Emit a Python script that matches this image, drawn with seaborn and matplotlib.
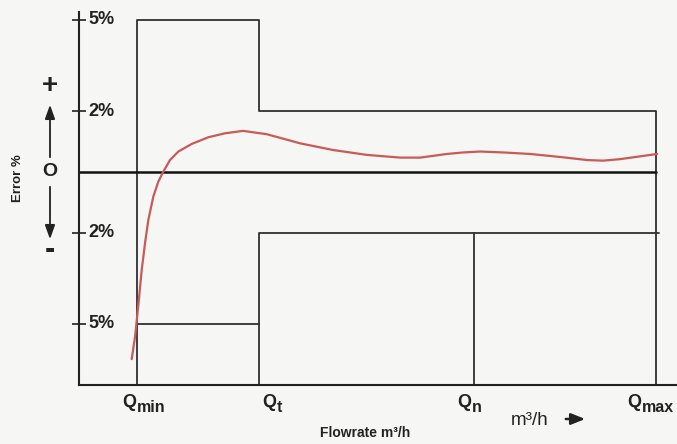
import matplotlib
matplotlib.use("Agg")
import matplotlib.pyplot as plt
import numpy as np
import pandas as pd
import seaborn as sns

# ---- data -------------------------------------------------------------
flow_names = ["Q", "Q", "Q", "Q"]
flow_subs = ["min", "t", "n", "max"]
flow_pos = [1.01, 3.12, 6.85, 9.99]          # Qmin, Qt, Qn, Qmax (schematic flow)
upper_limits = [5, 2]                         # +% : Qmin..Qt , Qt..Qmax
lower_limits = [-5, -2]                       # -% : Qmin..Qt , Qt..Qmax
ytick_vals = [5, 2, -2, -5]
ytick_labels = ["5%", "2%", "2%", "5%"]

curve_x = [0.913, 0.971, 1.028, 1.087, 1.144, 1.201, 1.288, 1.374, 1.461, 1.577, 1.721,
           1.953, 2.241, 2.530, 2.842, 3.253, 3.830, 4.402, 4.986, 5.563, 5.910,
           6.373, 6.655, 6.950, 7.348, 7.816, 8.388, 8.804, 9.081, 9.376, 9.601, 10.017]
curve_y = [-6.16, -5.42, -4.38, -3.22, -2.34, -1.58, -0.81, -0.32, 0.01, 0.39, 0.67,
           0.92, 1.14, 1.27, 1.35, 1.24, 0.94, 0.72, 0.56, 0.47, 0.47,
           0.59, 0.64, 0.67, 0.64, 0.59, 0.48, 0.39, 0.37, 0.42, 0.48, 0.59]

# ---- figure -----------------------------------------------------------
sns.set_theme(style="white")
plt.rcParams["font.family"] = ["Liberation Sans", "DejaVu Sans"]

bg = "#f6f6f4"
ink = "#222222"
fig = plt.figure(figsize=(6.77, 4.44), dpi=100, facecolor=bg)
ax = fig.add_axes([79 / 677, 59 / 444, 598 / 677, 373 / 444])
ax.set_facecolor(bg)

y_bottom, y_top = -7.01, 5.26
ax.set_xlim(0, 10.36)
ax.set_ylim(y_bottom, y_top)

qmin, qt, qn, qmax = flow_pos
lc = "#303030"
lw = 1.3

# upper tolerance envelope
up = pd.DataFrame({"x": [qmin, qmin, qt, qt, qmax, qmax],
                   "y": [y_bottom, upper_limits[0], upper_limits[0], upper_limits[1], upper_limits[1], y_bottom]})
ax.plot(up["x"], up["y"], color=lc, lw=lw)
# lower tolerance envelope
ax.plot([qmin, qt], [lower_limits[0]] * 2, color=lc, lw=lw)
ax.plot([qt, qt, qmax + 0.05], [y_bottom, lower_limits[1], lower_limits[1]], color=lc, lw=lw)
ax.plot([qn, qn], [lower_limits[1], y_bottom], color=lc, lw=lw)
# zero line
ax.plot([0, qmax], [0, 0], color="#111111", lw=1.8)

# error curve
df = pd.DataFrame({"flow": curve_x, "error": curve_y})
sns.lineplot(data=df, x="flow", y="error", ax=ax, color="#c85a5a", lw=1.6, sort=False)

# axes styling
for s in ["top", "right"]:
    ax.spines[s].set_visible(False)
for s in ["left", "bottom"]:
    ax.spines[s].set_color(ink)
    ax.spines[s].set_linewidth(1.5)
ax.set_xticks([])
ax.set_yticks(ytick_vals)
ax.set_yticklabels([])
ax.tick_params(axis="y", direction="inout", length=10, width=1.2, color=ink, left=True)
ax.set_xlabel("")
ax.set_ylabel("")

for v, lab in zip(ytick_vals, ytick_labels):
    ax.text(0.015, v, lab, transform=ax.get_yaxis_transform(), ha="left", va="center",
            fontsize=13, fontweight="bold", color=ink)

# flow labels under the axis: big Q plus a large, lowered subscript
px = 72 / 100  # points per pixel
q_left_px = [-15, 3, -17, -28]
for x, name, sub, dx in zip(flow_pos, flow_names, flow_subs, q_left_px):
    ax.annotate(name, xy=(x, 0), xycoords=ax.get_xaxis_transform(),
                xytext=(dx * px, -22 * px), textcoords="offset points",
                ha="left", va="baseline", fontsize=13, fontweight="bold", color=ink)
    ax.annotate(sub, xy=(x, 0), xycoords=ax.get_xaxis_transform(),
                xytext=((dx + 14.5) * px, -27 * px), textcoords="offset points",
                ha="left", va="baseline", fontsize=11.5, fontweight="bold", color=ink)

fig.text(511 / 677, 1 - 425 / 444, "m³/h", ha="left", va="baseline", fontsize=13.5, color=ink)
ax.annotate("", xy=(588 / 677, 1 - 419 / 444), xytext=(563 / 677, 1 - 419 / 444),
            xycoords="figure fraction", textcoords="figure fraction",
            arrowprops=dict(arrowstyle="-|>,head_length=0.7,head_width=0.28", color=ink, lw=1.8))
fig.text(365 / 677, 1 - 433 / 444, "Flowrate m³/h", ha="center", va="center",
         fontsize=10, fontweight="bold", color=ink)

# left-side sign indicators
fig.text(18 / 677, 1 - 178 / 444, "Error %", rotation=90, ha="center", va="center",
         fontsize=9.5, fontweight="bold", color=ink)
fig.text(50 / 677, 1 - 86 / 444, "+", ha="center", va="center", fontsize=20, fontweight="bold", color=ink)
fig.text(50 / 677, 1 - 171 / 444, "O", ha="center", va="center", fontsize=14, fontweight="bold", color=ink)
fig.text(50 / 677, 1 - 250 / 444, "-", ha="center", va="center", fontsize=22, fontweight="bold", color=ink)
arrow_kw = dict(arrowstyle="-|>,head_length=0.7,head_width=0.25", color=ink, lw=1.3)
ax.annotate("", xy=(50 / 677, 1 - 102 / 444), xytext=(50 / 677, 1 - 160 / 444),
            xycoords="figure fraction", textcoords="figure fraction", arrowprops=arrow_kw)
ax.annotate("", xy=(50 / 677, 1 - 242 / 444), xytext=(50 / 677, 1 - 184 / 444),
            xycoords="figure fraction", textcoords="figure fraction", arrowprops=arrow_kw)

fig.savefig("out.png", dpi=100, facecolor=bg)
